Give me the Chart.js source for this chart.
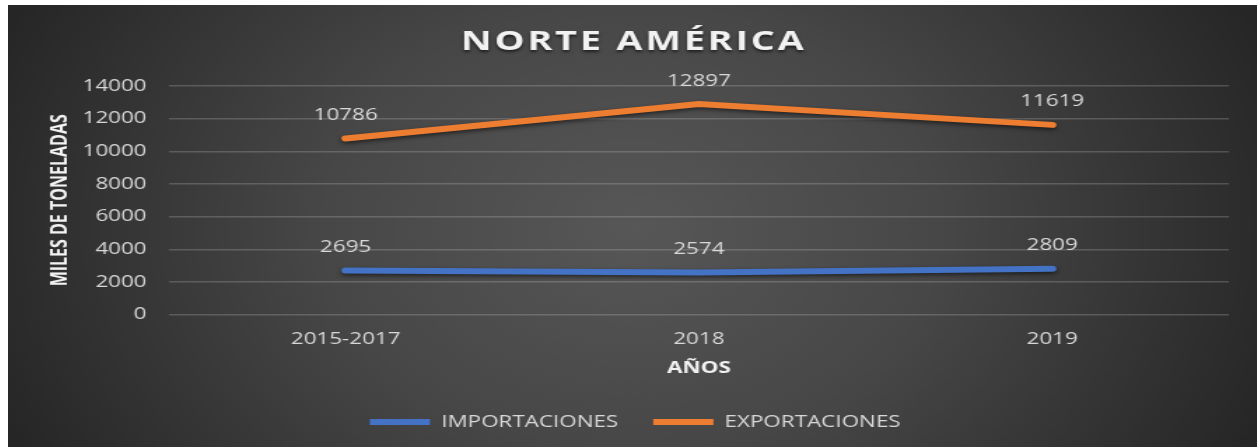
<!DOCTYPE html>
<html lang="es">
<head>
<meta charset="utf-8">
<title>Norte América</title>
<script src="https://cdn.jsdelivr.net/npm/chart.js@4.4.1/dist/chart.umd.min.js"></script>
<style>
  html, body { margin: 0; padding: 0; background: #ffffff; overflow: hidden; }
  /* el gráfico se dibuja angosto y se estira a lo ancho */
  #marco {
    position: absolute;
    left: 8px;
    top: 5px;
    width: 892px;
    height: 442px;
    transform: scaleX(1.4);
    transform-origin: 0 0;
  }
</style>
</head>
<body>
<div id="marco"><canvas id="graficoNorteAmerica"></canvas></div>
<script>
// Datos del gráfico
const titulo = "NORTE AMÉRICA";
const anios = ["2015-2017", "2018", "2019"];
const importaciones = [2695, 2574, 2809];
const exportaciones = [10786, 12897, 11619];
const ticksY = [0, 2000, 4000, 6000, 8000, 10000, 12000, 14000];

const colorTexto = "#d9d9d9";
const fuente = "'Open Sans', 'DejaVu Sans', sans-serif";

// Fondo con degradado radial
const fondoRadial = {
  id: "fondoRadial",
  beforeDraw(chart) {
    const { ctx, width, height } = chart;
    const g = ctx.createRadialGradient(width / 2, height / 2, 0, width / 2, height / 2, width * 0.55);
    g.addColorStop(0, "#575757");
    g.addColorStop(0.45, "#474747");
    g.addColorStop(1, "#262626");
    ctx.save();
    ctx.fillStyle = g;
    ctx.fillRect(0, 0, width, height);
    ctx.restore();
  }
};

// Título con letras espaciadas y sombra
const tituloEspaciado = {
  id: "tituloEspaciado",
  afterDraw(chart) {
    const ctx = chart.ctx;
    ctx.save();
    ctx.font = "bold 27px " + fuente;
    ctx.letterSpacing = "2px";
    ctx.fillStyle = "#f2f2f2";
    ctx.textAlign = "center";
    ctx.textBaseline = "middle";
    ctx.shadowColor = "rgba(0, 0, 0, 0.6)";
    ctx.shadowBlur = 3;
    ctx.shadowOffsetY = 2;
    ctx.fillText(titulo, chart.width / 2 + 1, 37.5);
    ctx.restore();
  }
};

// La leyenda se corre un poco a la derecha
const leyendaCentrada = {
  id: "leyendaCentrada",
  afterLayout(chart) {
    chart.legend.left += 12;
    chart.legend.right += 12;
  }
};

// Sombra bajo las líneas
const sombraLineas = {
  id: "sombraLineas",
  beforeDatasetDraw(chart) {
    const ctx = chart.ctx;
    ctx.save();
    ctx.shadowColor = "rgba(0, 0, 0, 0.55)";
    ctx.shadowBlur = 4;
    ctx.shadowOffsetY = 2;
  },
  afterDatasetDraw(chart) {
    chart.ctx.restore();
  }
};

// Etiquetas con el valor encima de cada punto
const etiquetasValor = {
  id: "etiquetasValor",
  afterDatasetsDraw(chart) {
    const ctx = chart.ctx;
    ctx.save();
    ctx.font = "16px " + fuente;
    ctx.fillStyle = colorTexto;
    ctx.textAlign = "center";
    ctx.textBaseline = "middle";
    chart.data.datasets.forEach((ds, i) => {
      chart.getDatasetMeta(i).data.forEach((p, j) => {
        ctx.fillText(String(ds.data[j]), p.x, p.y - 23);
      });
    });
    ctx.restore();
  }
};

const ctx = document.getElementById("graficoNorteAmerica").getContext("2d");

new Chart(ctx, {
  type: "line",
  data: {
    labels: anios,
    datasets: [
      {
        label: "IMPORTACIONES",
        data: importaciones,
        borderColor: "#4472c4",
        backgroundColor: "#4472c4",
        borderWidth: 6,
        borderCapStyle: "round",
        borderJoinStyle: "round",
        pointRadius: 0,
        pointStyle: "line",
        tension: 0
      },
      {
        label: "EXPORTACIONES",
        data: exportaciones,
        borderColor: "#ed7d31",
        backgroundColor: "#ed7d31",
        borderWidth: 6,
        borderCapStyle: "round",
        borderJoinStyle: "round",
        pointRadius: 0,
        pointStyle: "line",
        tension: 0
      }
    ]
  },
  options: {
    responsive: true,
    maintainAspectRatio: false,
    animation: false,
    layout: {
      padding: { left: 0, right: 20, top: 81, bottom: 7 }
    },
    plugins: {
      title: { display: false },
      legend: {
        display: true,
        position: "bottom",
        labels: {
          color: colorTexto,
          font: { family: fuente, size: 16 },
          usePointStyle: true,
          pointStyle: "line",
          pointStyleWidth: 43,
          padding: 25
        }
      },
      tooltip: { enabled: false }
    },
    scales: {
      x: {
        offset: true,
        grid: { display: false, drawTicks: false },
        border: { display: false },
        ticks: {
          color: colorTexto,
          font: { family: fuente, size: 16 },
          padding: 15
        },
        title: {
          display: true,
          text: "AÑOS",
          color: "#f2f2f2",
          font: { family: fuente, size: 16, weight: "bold" },
          padding: { top: -5, bottom: 11 }
        }
      },
      y: {
        min: 0,
        max: 14000,
        afterBuildTicks(scale) {
          scale.ticks = ticksY.map(v => ({ value: v }));
        },
        afterFit(scale) {
          scale.width = 115;
        },
        grid: {
          color: "rgba(217, 217, 217, 0.22)",
          lineWidth: 1.5,
          drawTicks: false
        },
        border: { display: false },
        ticks: {
          color: colorTexto,
          font: { family: fuente, size: 16 },
          padding: 16,
          callback: v => String(v)
        },
        title: {
          display: true,
          text: "MILES DE TONELADAS",
          color: "#f2f2f2",
          font: { family: fuente, size: 16, weight: "bold" },
          padding: { top: 28, bottom: 5 }
        }
      }
    }
  },
  plugins: [fondoRadial, tituloEspaciado, leyendaCentrada, sombraLineas, etiquetasValor]
});
</script>
</body>
</html>
